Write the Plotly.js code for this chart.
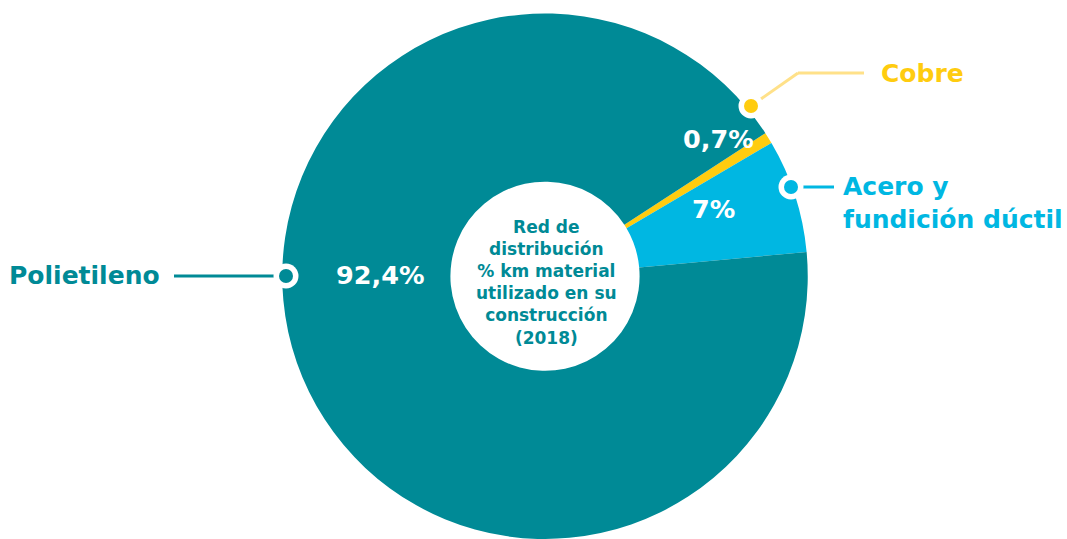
<!DOCTYPE html>
<html><head><meta charset="utf-8">
<script src="https://cdn.plot.ly/plotly-3.0.1.min.js"></script>
<style>html,body{margin:0;padding:0;background:#fff;overflow:hidden}</style>
</head><body><div id="chart" style="width:1067px;height:539px"></div>
<script>
// ---- data ----
const materials = ['Cobre', 'Acero y fundición dúctil', 'Polietileno'];
const shares = [0.7, 7, 92.4];
const calloutLabels = ['Cobre', 'Acero y<br>fundición dúctil', 'Polietileno'];
const centerTitle = ['Red de', 'distribución', '% km material', 'utilizado en su', 'construcción', '(2018)'];

// ---- styles ----
const sliceColors = ['#FFCC0F', '#00B7E2', '#008A96'];
const labelColors = ['#FFCC0F', '#00B7E2', '#008A96'];
const leaderColors = ['#FFE189', '#00B7E2', '#008A96'];
const FONT = 'DejaVu Sans, sans-serif';
const W = 1067, H = 539;
const px = x => x / W, py = y => 1 - y / H;
const fmt = v => String(v).replace('.', ',') + '%';

// layout positions (pixels) for percentage labels, dots, leaders, callouts
const pctPos = [[718, 139], [713, 209], [380, 275]];
const dotPos = [[751, 106], [791, 187], [286, 276]];
const leaderPaths = [
  [[751, 106], [798, 73], [864, 73]],
  [[791, 187], [834, 187]],
  [[174, 276], [286, 276]]
];
const calloutPos = [[879, 74, 'left'], [841, 203, 'left'], [162, 275, 'right']];

const shapes = [];
leaderPaths.forEach((pts, i) => {
  for (let k = 0; k < pts.length - 1; k++) {
    shapes.push({type: 'line', xref: 'paper', yref: 'paper',
      x0: px(pts[k][0]), y0: py(pts[k][1]), x1: px(pts[k + 1][0]), y1: py(pts[k + 1][1]),
      line: {color: leaderColors[i], width: 3}});
  }
});
dotPos.forEach((p, i) => {
  const rw = 12.5, rc = 7;
  shapes.push({type: 'circle', xref: 'paper', yref: 'paper',
    x0: px(p[0] - rw), x1: px(p[0] + rw), y0: py(p[1] + rw), y1: py(p[1] - rw),
    fillcolor: '#ffffff', line: {width: 0}});
  shapes.push({type: 'circle', xref: 'paper', yref: 'paper',
    x0: px(p[0] - rc), x1: px(p[0] + rc), y0: py(p[1] + rc), y1: py(p[1] - rc),
    fillcolor: sliceColors[i], line: {width: 0}});
});

const annotations = [];
shares.forEach((v, i) => {
  annotations.push({xref: 'paper', yref: 'paper', x: px(pctPos[i][0]), y: py(pctPos[i][1]),
    text: fmt(v), showarrow: false, xanchor: 'center', yanchor: 'middle',
    font: {family: FONT, size: 25.5, color: '#ffffff', weight: 700}});
  annotations.push({xref: 'paper', yref: 'paper', x: px(calloutPos[i][0]), y: py(calloutPos[i][1]),
    text: calloutLabels[i], showarrow: false, xanchor: calloutPos[i][2], yanchor: 'middle', align: 'left',
    font: {family: FONT, size: 25, color: labelColors[i], weight: 700}});
});
annotations.push({xref: 'paper', yref: 'paper', x: px(546), y: py(282),
  text: centerTitle.join('<br>'), showarrow: false, xanchor: 'center', yanchor: 'middle',
  font: {family: FONT, size: 17, color: '#008A96', weight: 700}});

const trace = {
  type: 'pie', labels: materials, values: shares, sort: false,
  direction: 'clockwise', rotation: 57, hole: 0.36,
  textinfo: 'none', hoverinfo: 'label+percent',
  marker: {colors: sliceColors, line: {width: 0}},
  domain: {x: [px(282), px(808)], y: [0, py(13.5)]},
  showlegend: false
};

Plotly.newPlot('chart', [trace], {
  width: W, height: H, margin: {l: 0, r: 0, t: 0, b: 0},
  paper_bgcolor: '#ffffff', showlegend: false,
  shapes: shapes, annotations: annotations
}, {displayModeBar: false, staticPlot: true});
</script></body></html>
